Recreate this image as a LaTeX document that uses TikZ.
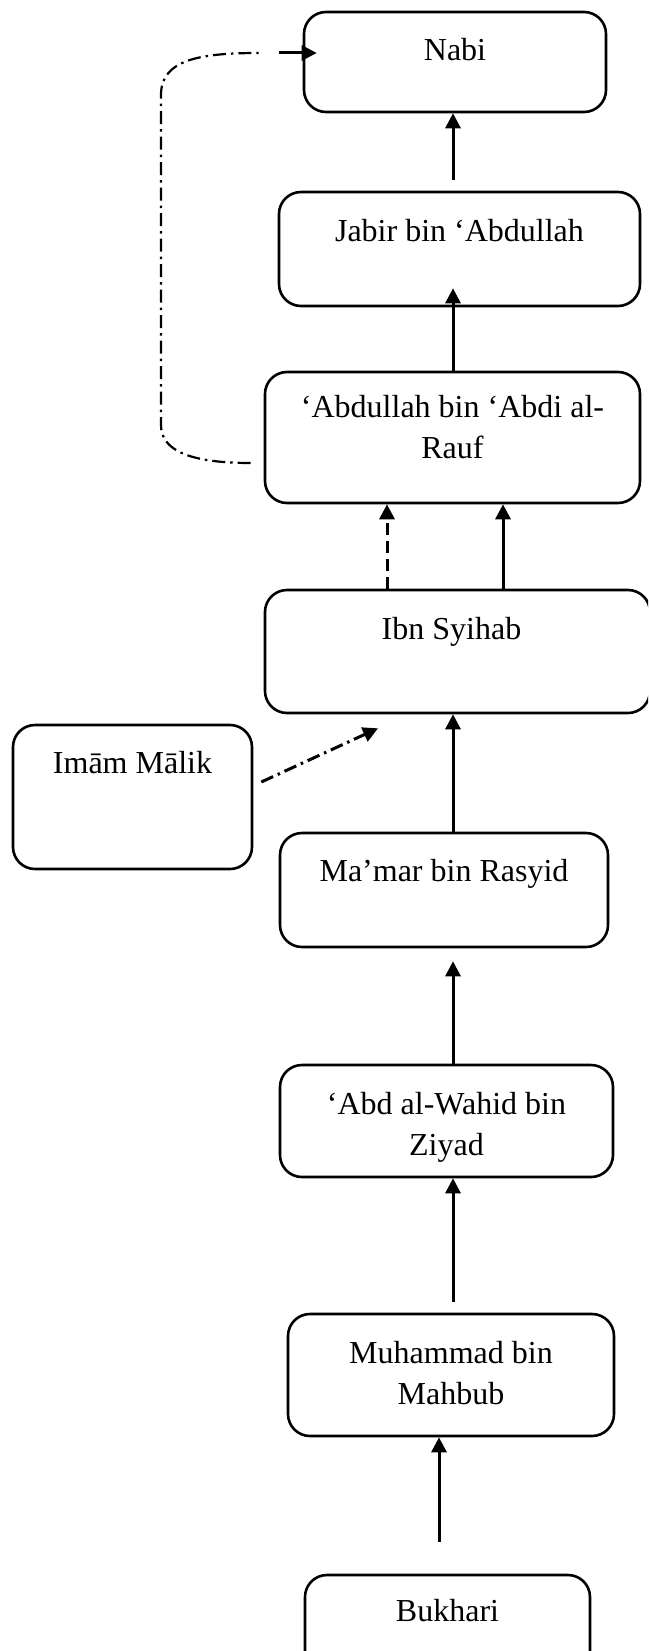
\documentclass[tikz,border=0pt]{standalone}
\usepackage{fontspec}
\setmainfont{Liberation Serif}
\usetikzlibrary{arrows.meta,calc}

\tikzset{
  chainbox/.style={draw, line width=2.6pt, rounded corners=22pt, inner sep=0pt},
  nametext/.style={font=\fontsize{32}{41}\selectfont, align=center, inner sep=0pt, anchor=base},
  link/.style={line width=3pt, -{Triangle[length=15pt,width=15pt]}},
  broken/.style={link, dash pattern=on 12pt off 6pt},
  loose/.style={line width=3pt, dash pattern=on 13pt off 5pt on 2.5pt off 5pt},
  looseend/.style={loose, -{Triangle[length=15pt,width=15pt]}},
}

\begin{document}
\begin{tikzpicture}[x=1pt, y=-1pt]
  \useasboundingbox (0,0) rectangle (648,1651);
  \fill[white] (0,0) rectangle (648,1651);
  \clip (0,0) rectangle (648,1651);

  % boxes of the chain
  \node[chainbox, minimum width=302pt, minimum height=100pt] (nabi)  at (455,62)     {};
  \node[chainbox, minimum width=361pt, minimum height=114pt] (jabir) at (459.5,249)  {};
  \node[chainbox, minimum width=375pt, minimum height=131pt] (abd)   at (452.5,437.5){};
  \node[chainbox, minimum width=385pt, minimum height=123pt] (ibn)   at (457.5,651.5){};
  \node[chainbox, minimum width=239pt, minimum height=144pt] (malik) at (132.5,797)  {};
  \node[chainbox, minimum width=328pt, minimum height=114pt] (mamar) at (444,890)    {};
  \node[chainbox, minimum width=333pt, minimum height=112pt] (ziyad) at (446.5,1121) {};
  \node[chainbox, minimum width=326pt, minimum height=122pt] (muh)   at (451,1375)   {};
  \node[chainbox, minimum width=285pt, minimum height=115pt] (bukh)  at (447.5,1632.5){};

  % names, set near the top of each box (two-line names sit on their last baseline)
  \node[nametext] (nabiT)  at ($(nabi.north)+(0,50)$)  {Nabi};
  \node[nametext] (jabirT) at ($(jabir.north)+(0,51)$) {Jabir bin ‘Abdullah};
  \node[nametext] (abdT)   at ($(abd.north)+(0,88)$)   {‘Abdullah bin ‘Abdi al-\\Rauf};
  \node[nametext] (ibnT)   at ($(ibn.north)+(-6,51)$)  {Ibn Syihab};
  \node[nametext] (malikT) at ($(malik.north)+(0,50)$) {Imām Mālik};
  \node[nametext] (mamarT) at ($(mamar.north)+(0,50)$) {Ma’mar bin Rasyid};
  \node[nametext] (ziyadT) at ($(ziyad.north)+(0,92)$) {‘Abd al-Wahid bin\\Ziyad};
  \node[nametext] (muhT)   at ($(muh.north)+(0,92)$)   {Muhammad bin\\Mahbub};
  \node[nametext] (bukhT)  at ($(bukh.north)+(0,48)$)  {Bukhari};

  % columns of the vertical links
  \coordinate (colA) at (453,0);
  \coordinate (colB) at (387,0);
  \coordinate (colC) at (503,0);
  \coordinate (colD) at (439,0);

  % main chain
  \draw[link] ($(jabir.north -| colA)+(0,-11)$) -- (nabi.south -| colA);
  \draw[link] (abd.north -| colA) -- ($(jabir.south -| colA)+(0,-19)$);
  \draw[broken] (ibn.north -| colB) -- (abd.south -| colB);
  \draw[link] (ibn.north -| colC) -- (abd.south -| colC);
  \draw[link] (mamar.north -| colA) -- (ibn.south -| colA);
  \draw[link] (ziyad.north -| colA) -- ($(mamar.south -| colA)+(0,13)$);
  \draw[link] ($(muh.north -| colA)+(0,-11)$) -- (ziyad.south -| colA);
  \draw[link] ($(bukh.north -| colD)+(0,-32)$) -- (muh.south -| colD);

  % side link from Imam Malik
  \draw[looseend] ($(malik.east)+(8,-15)$) -- ($(ibn.south)+(-79.5,14)$);

  % loop from 'Abdullah back to Nabi
  \coordinate (loopS) at ($(abd.west)+(-13,25.5)$);
  \coordinate (loopE) at ($(nabi.west)+(-44,-9)$);
  \coordinate (loopT) at ($(nabi.west)+(-24,-9)$);
  \draw[loose, line width=2.2pt] (loopS) .. controls +(-62,0) and +(0,25) .. (161,425)
        -- (161,95) .. controls +(0,-35) and +(-60,0) .. (loopE);
  \draw[link] (loopT) -- ($(nabi.west)+(14,-9)$);
\end{tikzpicture}
\end{document}
